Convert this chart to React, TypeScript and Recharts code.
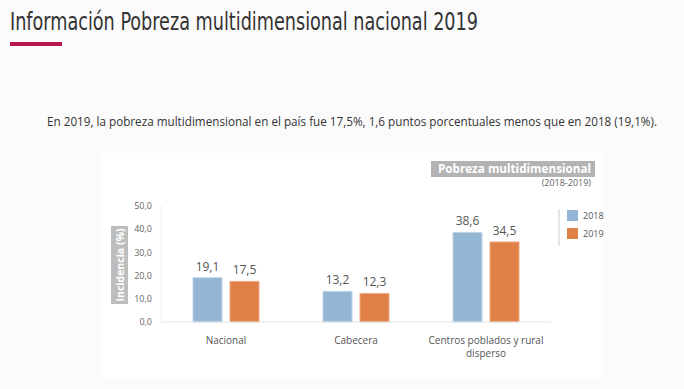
import React from "react";
import { BarChart, Bar, XAxis, YAxis, LabelList } from "recharts";

const categories = ["Nacional", "Cabecera", "Centros poblados y rural disperso"];
const values2018 = [19.1, 13.2, 38.6];
const values2019 = [17.5, 12.3, 34.5];
const yTicks = [0, 10, 20, 30, 40, 50];
const seriesNames = ["2018", "2019"];

const data = categories.map((c, i) => ({ name: c, y2018: values2018[i], y2019: values2019[i] }));

const fmt = (v: any) => Number(v).toFixed(1).replace(".", ",");

const FONT = "'Open Sans', 'Noto Sans', sans-serif";

const wrap = (s: string, maxChars: number) => {
  const words = s.split(" ");
  const lines: string[] = [];
  let cur = "";
  for (const w of words) {
    const next = cur ? cur + " " + w : w;
    if (next.length > maxChars && cur) {
      lines.push(cur);
      cur = w;
    } else {
      cur = next;
    }
  }
  if (cur) lines.push(cur);
  return lines;
};

const XTick = (props: any) => {
  const { x, y, payload } = props;
  const lines = wrap(String(payload.value), 25);
  return (
    <text x={x} y={y + 14} textAnchor="middle" fontSize={10} fill="#555" fontFamily={FONT}>
      {lines.map((l, i) => (
        <tspan key={i} x={x} dy={i === 0 ? 0 : 12.5}>
          {l}
        </tspan>
      ))}
    </text>
  );
};

export default function App() {
  return (
    <div style={{ position: "absolute", left: 0, top: 0, width: 684, height: 389, background: "#fbfbfb", overflow: "hidden" }}>
      <div style={{ position: "absolute", left: 101, top: 153, width: 502, height: 225, background: "#ffffff" }} />
      <div style={{ position: "absolute", left: 0, top: 0 }}>
        <BarChart
          width={684}
          height={389}
          data={data}
          margin={{ top: 206, right: 133, bottom: 37, left: 121 }}
          barSize={29}
          barGap={8}
        >
          <XAxis
            dataKey="name"
            axisLine={{ stroke: "#e4e4e4" }}
            tickLine={false}
            tick={<XTick />}
            interval={0}
            height={30}
          />
          <YAxis
            width={40}
            domain={[0, 50]}
            ticks={yTicks}
            tickFormatter={fmt}
            axisLine={{ stroke: "#eeeeee" }}
            tickLine={false}
            tick={{ fontSize: 9, fill: "#666", fontFamily: FONT }}
            tickMargin={3}
          />
          <Bar dataKey="y2018" fill="#93b6d5" stroke="#c0d4e8" strokeWidth={1} isAnimationActive={false}>
            <LabelList dataKey="y2018" position="top" offset={7} formatter={fmt} fontSize={12} fill="#555" fontFamily={FONT} />
          </Bar>
          <Bar dataKey="y2019" fill="#df8047" stroke="#eda982" strokeWidth={1} isAnimationActive={false}>
            <LabelList dataKey="y2019" position="top" offset={7} formatter={fmt} fontSize={12} fill="#555" fontFamily={FONT} />
          </Bar>
        </BarChart>
      </div>
      <svg width={684} height={389} style={{ position: "absolute", left: 0, top: 0, pointerEvents: "none" }}>
        <text
          x={10}
          y={30}
          fontSize={25}
          fill="#333"
          fontFamily="'DejaVu Sans Condensed', 'DejaVu Sans', sans-serif"
          textLength={468}
          lengthAdjust="spacingAndGlyphs"
        >
          Información Pobreza multidimensional nacional 2019
        </text>
        <rect x={10} y={42} width={52} height={4} fill="#b5164f" />
        <text x={47} y={126} fontSize={12} fill="#333" fontFamily={FONT} textLength={610} lengthAdjust="spacingAndGlyphs">
          En 2019, la pobreza multidimensional en el país fue 17,5%, 1,6 puntos porcentuales menos que en 2018 (19,1%).
        </text>
        <rect x={431} y={161} width={164} height={16} fill="#b3b3b3" />
        <text x={591} y={173} fontSize={11.5} fontWeight="bold" fill="#fff" fontFamily={FONT} textAnchor="end" textLength={153} lengthAdjust="spacingAndGlyphs">
          Pobreza multidimensional
        </text>
        <text x={591} y={186} fontSize={9} fill="#666" fontFamily={FONT} textAnchor="end">
          (2018-2019)
        </text>
        <line x1={559} y1={209} x2={559} y2={246} stroke="#cccccc" strokeWidth={1} />
        <rect x={567} y={210} width={11} height={11} fill="#93b6d5" />
        <text x={583} y={218.5} fontSize={9} fill="#555" fontFamily={FONT}>{seriesNames[0]}</text>
        <rect x={567} y={228} width={11} height={11} fill="#df8047" />
        <text x={583} y={236.5} fontSize={9} fill="#555" fontFamily={FONT}>{seriesNames[1]}</text>
        <rect x={111} y={226} width={17} height={78} fill="#bdbdbd" />
        <text
          x={0}
          y={0}
          transform="translate(123.5 265) rotate(-90)"
          fontSize={10.5}
          fontWeight="bold"
          fill="#fff"
          fontFamily={FONT}
          textAnchor="middle"
        >
          Incidencia (%)
        </text>
      </svg>
    </div>
  );
}
